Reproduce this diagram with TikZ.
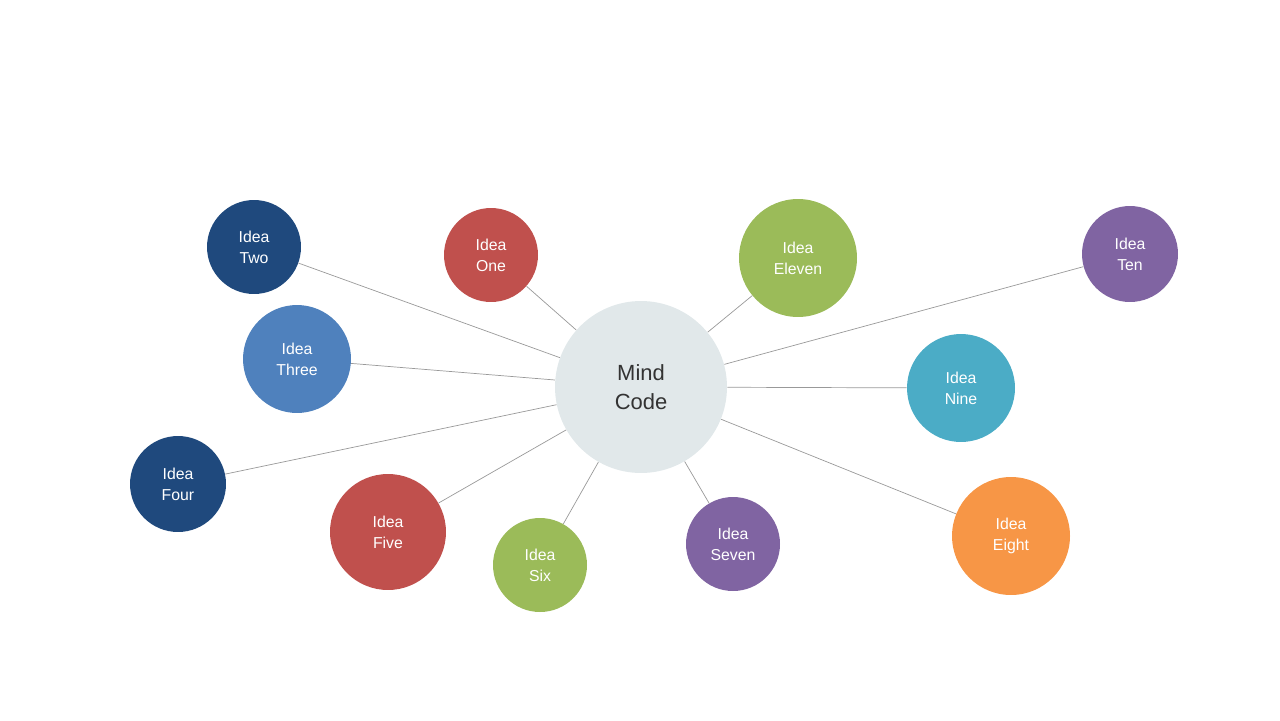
\documentclass[tikz,border=0pt]{standalone}
\usepackage{fontspec}
\setmainfont{Liberation Sans}
\definecolor{ired}{HTML}{C0504D}
\definecolor{inavy}{HTML}{1F497D}
\definecolor{iblue}{HTML}{4F81BD}
\definecolor{igreen}{HTML}{9BBB59}
\definecolor{ipurple}{HTML}{8064A2}
\definecolor{iorange}{HTML}{F79646}
\definecolor{iteal}{HTML}{4BACC6}
\definecolor{icore}{HTML}{E1E8EA}
\begin{document}
\begin{tikzpicture}[x=0.02cm, y=-0.02cm,
    idea/.style={circle, fill=#1, text=white, inner sep=0pt, align=center, font=\fontsize{9}{12}\selectfont},
    link/.style={draw=gray!80, line width=0.4pt}]
        \useasboundingbox (0,0) rectangle (1280,720);

        \node[circle, fill=icore, minimum size=3.44cm, align=center, text=black!80, font=\fontsize{12.5}{16.5}\selectfont] (mind) at (641,387) {Mind\\Code};

        \node[idea=ired, minimum size=1.88cm] (one) at (491,255) {Idea\\One};
        \node[idea=inavy, minimum size=1.88cm] (two) at (254,247) {Idea\\Two};
        \node[idea=iblue, minimum size=2.16cm] (three) at (297,359) {Idea\\Three};
        \node[idea=inavy, minimum size=1.92cm] (four) at (178,484) {Idea\\Four};
        \node[idea=ired, minimum size=2.32cm] (five) at (388,532) {Idea\\Five};
        \node[idea=igreen, minimum size=1.88cm] (six) at (540,565) {Idea\\Six};
        \node[idea=ipurple, minimum size=1.88cm] (seven) at (733,544) {Idea\\Seven};
        \node[idea=iorange, minimum size=2.36cm] (eight) at (1011,536) {Idea\\Eight};
        \node[idea=iteal, minimum size=2.16cm] (nine) at (961,388) {Idea\\Nine};
        \node[idea=ipurple, minimum size=1.92cm] (ten) at (1130,254) {Idea\\Ten};
        \node[idea=igreen, minimum size=2.36cm] (eleven) at (798,258) {Idea\\Eleven};

        \foreach \n in {one,two,three,four,five,six,seven,eight,nine,ten,eleven}
            \draw[link] (mind) -- (\n);
    \end{tikzpicture}
\end{document}
